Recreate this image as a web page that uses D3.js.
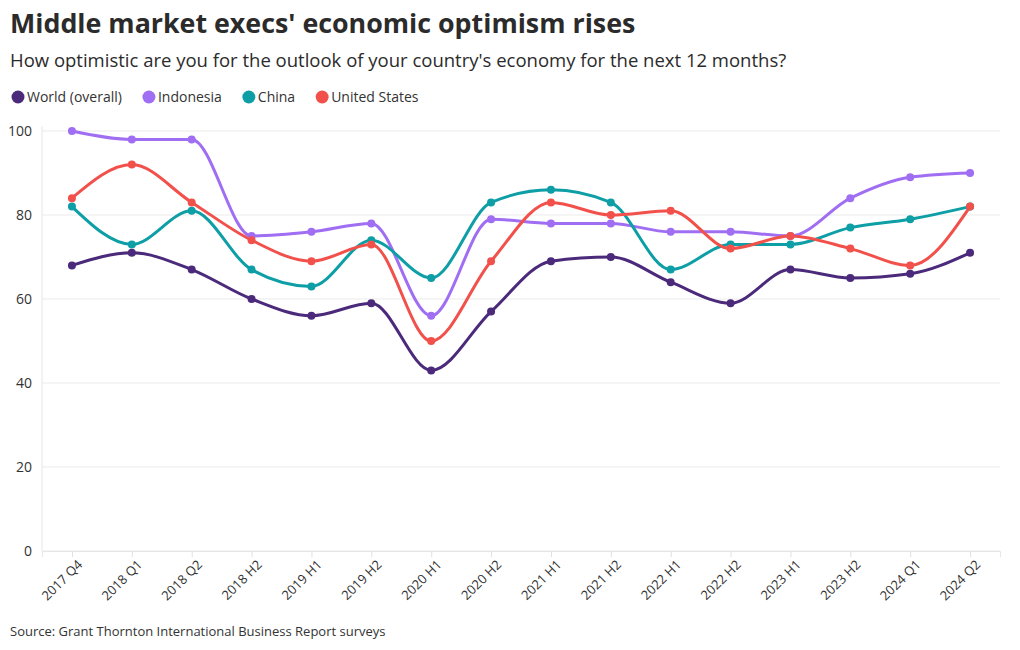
<!DOCTYPE html>
<html><head><meta charset="utf-8">
<script src="https://cdn.jsdelivr.net/npm/d3@7"></script>
<style>
body{margin:0;background:#fff;font-family:"Open Sans","Noto Sans",sans-serif;}
</style></head>
<body><svg id="chart" width="1020" height="650"></svg>
<script>
const categories = ["2017 Q4","2018 Q1","2018 Q2","2018 H2","2019 H1","2019 H2","2020 H1","2020 H2","2021 H1","2021 H2","2022 H1","2022 H2","2023 H1","2023 H2","2024 Q1","2024 Q2"];
const world     = [68,71,67,60,56,59,43,57,69,70,64,59,67,65,66,71];
const indonesia = [100,98,98,75,76,78,56,79,78,78,76,76,75,84,89,90];
const china     = [82,73,81,67,63,74,65,83,86,83,67,73,73,77,79,82];
const us        = [84,92,83,74,69,73,50,69,83,80,81,72,75,72,68,82];
const yTicks = [0,20,40,60,80,100];
const seriesNames = ["World (overall)","Indonesia","China","United States"];
const seriesColors = ["#4b2a7b","#a06ef2","#0d9ea6","#f2504b"];

const series = [world, indonesia, china, us].map((v,i)=>({name:seriesNames[i], color:seriesColors[i], values:v}));

const svg = d3.select("#chart");
const mLeft = 42, mRight = 1000, mTop = 131, mBottom = 551;

svg.append("text").attr("x",10).attr("y",33).text("Middle market execs' economic optimism rises")
  .attr("font-size",26.8).attr("font-weight",700).attr("fill","#2b2b2b");
svg.append("text").attr("x",10).attr("y",67).text("How optimistic are you for the outlook of your country's economy for the next 12 months?")
  .attr("font-size",18.5).attr("fill","#2b2b2b");

// legend
let lx = 12;
series.forEach(s=>{
  const g = svg.append("g");
  g.append("circle").attr("cx",lx+6).attr("cy",97).attr("r",6.5).attr("fill",s.color);
  const t = g.append("text").attr("x",lx+15).attr("y",102).text(s.name).attr("font-size",14).attr("fill","#333");
  const w = t.node().getComputedTextLength();
  lx += 15 + w + 21;
});

const x = d3.scalePoint().domain(categories).range([mLeft,mRight]).padding(0.5);
const y = d3.scaleLinear().domain([0,100]).range([mBottom,mTop]);

// grid
svg.append("g").selectAll("line").data(yTicks).join("line")
  .attr("x1",mLeft).attr("x2",mRight).attr("y1",d=>y(d)).attr("y2",d=>y(d))
  .attr("stroke","#ebebeb").attr("stroke-width",1);
svg.append("line").attr("x1",mLeft).attr("x2",mLeft).attr("y1",mTop-5).attr("y2",mBottom)
  .attr("stroke","#e6e6e6");

// y axis
const yAxis = svg.append("g").attr("transform",`translate(${mLeft},0)`)
  .call(d3.axisLeft(y).tickValues(yTicks).tickSize(0).tickPadding(10));
yAxis.select(".domain").remove();
yAxis.selectAll("text").attr("font-size",14).attr("fill","#333").attr("font-family","Open Sans, Noto Sans, sans-serif");

// x axis
const xAxis = svg.append("g").attr("transform",`translate(0,${mBottom})`)
  .call(d3.axisBottom(x).tickSize(6).tickPadding(4));
xAxis.select(".domain").attr("stroke","#e6e6e6");
xAxis.selectAll(".tick line").attr("stroke","#e0e0e0");
xAxis.selectAll("text").attr("font-size",13).attr("fill","#333")
  .attr("font-family","Open Sans, Noto Sans, sans-serif")
  .attr("text-anchor","end").attr("dx","-0.2em").attr("dy","0.6em")
  .attr("transform","rotate(-45)");

const line = d3.line().x((d,i)=>x(categories[i])).y(d=>y(d)).curve(d3.curveMonotoneX);
series.forEach(s=>{
  svg.append("path").attr("d",line(s.values)).attr("fill","none")
    .attr("stroke",s.color).attr("stroke-width",3);
});
series.forEach(s=>{
  svg.append("g").selectAll("circle").data(s.values).join("circle")
    .attr("cx",(d,i)=>x(categories[i])).attr("cy",d=>y(d)).attr("r",4).attr("fill",s.color);
});

svg.append("text").attr("x",10).attr("y",636).text("Source: Grant Thornton International Business Report surveys")
  .attr("font-size",13).attr("fill","#333");
</script></body></html>
